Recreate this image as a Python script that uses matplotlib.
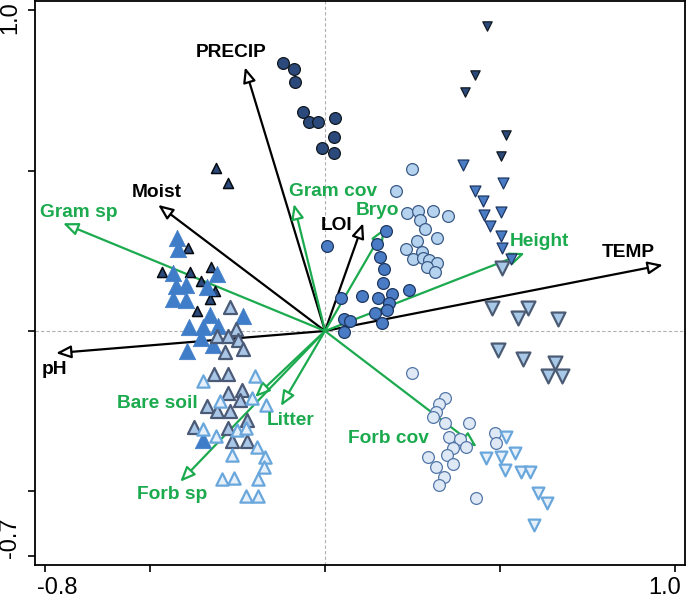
import matplotlib
matplotlib.use("Agg")
import matplotlib.pyplot as plt
from matplotlib.patches import FancyArrowPatch

plt.rcParams['font.family'] = ['Liberation Sans', 'DejaVu Sans']

# site scores, one group per symbol
navy_circ_x = [-0.120, -0.089, -0.086, -0.063, -0.046, -0.020, 0.029, 0.026, -0.009, 0.026]
navy_circ_y = [0.835, 0.816, 0.776, 0.682, 0.651, 0.651, 0.664, 0.604, 0.570, 0.555]

mid_circ_x = [0.006, 0.174, 0.149, 0.157, 0.169, 0.166, 0.106, 0.151, 0.191, 0.240,
              0.183, 0.177, 0.143, 0.046, 0.054, 0.071, 0.163, 0.054]
mid_circ_y = [0.265, 0.312, 0.271, 0.231, 0.193, 0.150, 0.109, 0.103, 0.115, 0.128,
              0.087, 0.065, 0.056, 0.103, 0.037, 0.031, 0.025, -0.003]

light_circ_x = [0.249, 0.203, 0.234, 0.266, 0.309, 0.351, 0.271, 0.286, 0.320,
                0.263, 0.231, 0.277, 0.251, 0.280, 0.297, 0.320, 0.291, 0.314]
light_circ_y = [0.505, 0.436, 0.368, 0.374, 0.374, 0.358, 0.346, 0.318, 0.290,
                0.280, 0.255, 0.246, 0.224, 0.227, 0.221, 0.212, 0.199, 0.184]

pale_circ_x = [0.249, 0.343, 0.326, 0.317, 0.309, 0.343, 0.411, 0.486, 0.489, 0.354,
               0.386, 0.366, 0.403, 0.349, 0.294, 0.366, 0.317, 0.340, 0.326, 0.431]
pale_circ_y = [-0.131, -0.209, -0.227, -0.252, -0.268, -0.287, -0.287, -0.318, -0.349, -0.330,
               -0.336, -0.364, -0.361, -0.386, -0.393, -0.414, -0.424, -0.455, -0.480, -0.520]

navy_down_x = [0.463, 0.429, 0.400, 0.517, 0.503]
navy_down_y = [0.950, 0.798, 0.745, 0.611, 0.545]

mid_down_x = [0.394, 0.509, 0.429, 0.451, 0.454, 0.503, 0.471, 0.503, 0.506, 0.531]
mid_down_y = [0.517, 0.461, 0.436, 0.405, 0.361, 0.371, 0.327, 0.296, 0.259, 0.224]

light_down_x = [0.506, 0.477, 0.551, 0.580, 0.666, 0.494, 0.566, 0.657, 0.637, 0.677]
light_down_y = [0.196, 0.072, 0.040, 0.072, 0.037, -0.059, -0.087, -0.100, -0.140, -0.140]

pale_down_x = [0.517, 0.460, 0.503, 0.543, 0.514, 0.560, 0.586, 0.609, 0.634, 0.597]
pale_down_y = [-0.330, -0.396, -0.393, -0.380, -0.433, -0.439, -0.439, -0.505, -0.536, -0.604]

navy_up_x = [-0.311, -0.277, -0.391, -0.466, -0.386, -0.326, -0.354, -0.314, -0.329, -0.366]
navy_up_y = [0.508, 0.461, 0.259, 0.184, 0.184, 0.199, 0.156, 0.125, 0.100, 0.062]

mid_up_x = [-0.423, -0.420, -0.434, -0.309, -0.426, -0.397, -0.337, -0.434, -0.397,
            -0.329, -0.234, -0.389, -0.349, -0.306, -0.354, -0.320, -0.394, -0.349]
mid_up_y = [0.290, 0.255, 0.181, 0.178, 0.140, 0.143, 0.137, 0.100, 0.097,
            0.050, 0.047, 0.012, 0.012, 0.016, -0.022, -0.044, -0.062, -0.340]

light_up_x = [-0.271, -0.254, -0.309, -0.277, -0.249, -0.234, -0.286, -0.317, -0.277, -0.277,
              -0.237, -0.337, -0.309, -0.271, -0.243, -0.374, -0.277, -0.223, -0.266, -0.223]
light_up_y = [0.075, 0.006, -0.016, -0.016, -0.028, -0.056, -0.065, -0.134, -0.134, -0.193,
              -0.184, -0.234, -0.249, -0.249, -0.215, -0.299, -0.302, -0.277, -0.343, -0.343]

pale_up_x = [-0.349, -0.200, -0.300, -0.209, -0.169, -0.349, -0.311, -0.251, -0.226,
             -0.194, -0.171, -0.174, -0.266, -0.294, -0.260, -0.191, -0.226, -0.191]
pale_up_y = [-0.156, -0.140, -0.218, -0.209, -0.231, -0.305, -0.327, -0.308, -0.302,
             -0.361, -0.393, -0.424, -0.386, -0.461, -0.458, -0.461, -0.514, -0.514]

# environmental variables (black) and vegetation variables (green)
env_names = ["PRECIP", "Moist", "LOI", "TEMP", "pH"]
env_x = [-0.229, -0.477, 0.109, 0.966, -0.769]
env_y = [0.822, 0.393, 0.336, 0.206, -0.069]
env_lab_x = [-0.269, -0.480, 0.034, 0.866, -0.774]
env_lab_y = [0.868, 0.433, 0.330, 0.246, -0.121]

veg_names = ["Gram sp", "Gram cov", "Bryo", "Height", "Bare soil", "Litter", "Forb sp", "Forb cov"]
veg_x = [-0.749, -0.089, 0.171, 0.571, -0.200, -0.126, -0.414, 0.434]
veg_y = [0.336, 0.396, 0.321, 0.243, -0.206, -0.234, -0.470, -0.361]
veg_lab_x = [-0.703, 0.023, 0.151, 0.614, -0.480, -0.097, -0.437, 0.180]
veg_lab_y = [0.368, 0.436, 0.377, 0.280, -0.227, -0.280, -0.511, -0.336]

xticks = [-0.8, -0.5, 0, 0.5, 1.0]
yticks = [-0.7, -0.5, 0, 0.5, 1.0]

GREEN = "#1caa4f"

fig = plt.figure(figsize=(6.87, 5.99), dpi=100)
ax = fig.add_axes([0.051, 0.057, 0.946, 0.941])

ax.axhline(0, color="#b0b0b0", lw=0.8, ls=(0, (3, 2)), zorder=0)
ax.axvline(0, color="#b0b0b0", lw=0.8, ls=(0, (3, 2)), zorder=0)

def arrow(x, y, col):
    a = FancyArrowPatch((0, 0), (x, y), arrowstyle="-|>,head_length=0.9,head_width=0.38",
                        mutation_scale=10, fc="white", ec=col, lw=1.6,
                        shrinkA=0, shrinkB=0, zorder=2)
    ax.add_patch(a)

for i in range(len(env_names)):
    arrow(env_x[i], env_y[i], "black")
for i in range(len(veg_names)):
    arrow(veg_x[i], veg_y[i], GREEN)

# circles
ax.scatter(navy_circ_x, navy_circ_y, s=72, c="#2b4a7b", edgecolors="#101820", lw=0.9, zorder=3)
ax.scatter(mid_circ_x, mid_circ_y, s=72, c="#4a7cc6", edgecolors="#1d3661", lw=0.9, zorder=3)
ax.scatter(light_circ_x, light_circ_y, s=72, c="#b5d3ef", edgecolors="#3a5a86", lw=0.9, zorder=3)
ax.scatter(pale_circ_x, pale_circ_y, s=72, c="#dfe9f6", edgecolors="#5276a8", lw=0.9, zorder=3)

# down triangles
ax.scatter(navy_down_x, navy_down_y, s=45, marker="v", c="#2b4a7b", edgecolors="#101820", lw=0.9, zorder=3)
ax.scatter(mid_down_x, mid_down_y, s=62, marker="v", c="#4a7cc6", edgecolors="#1d3661", lw=0.9, zorder=3)
ax.scatter(light_down_x, light_down_y, s=100, marker="v", c="#a8c8e8", edgecolors="#4c5b74", lw=1.6, zorder=3)
ax.scatter(pale_down_x, pale_down_y, s=72, marker="v", c="#e6f0fa", edgecolors="#68a6dc", lw=1.6, zorder=3)

# up triangles
ax.scatter(navy_up_x, navy_up_y, s=52, marker="^", c="#2b4a7b", edgecolors="#050a10", lw=1.1, zorder=3)
ax.scatter(mid_up_x, mid_up_y, s=140, marker="^", c="#3f7dc8", edgecolors="#3f7dc8", lw=0.5, zorder=3)
ax.scatter(light_up_x, light_up_y, s=88, marker="^", c="#a9c6e6", edgecolors="#4b5a77", lw=1.6, zorder=3)
ax.scatter(pale_up_x, pale_up_y, s=78, marker="^", c="#e6f0fa", edgecolors="#68a6dc", lw=1.6, zorder=3)

for i in range(len(env_names)):
    ax.text(env_lab_x[i], env_lab_y[i], env_names[i], color="black", fontsize=13.8,
            fontweight="bold", ha="center", va="center", zorder=5)
for i in range(len(veg_names)):
    ax.text(veg_lab_x[i], veg_lab_y[i], veg_names[i], color=GREEN, fontsize=13.8,
            fontweight="bold", ha="center", va="center", zorder=5)

ax.set_xlim(-0.829, 1.029)
ax.set_ylim(-0.729, 1.028)
ax.set_xticks(xticks)
ax.set_yticks(yticks)
ax.set_xticklabels([])
ax.set_yticklabels([])
ax.tick_params(direction="out", length=5, width=1.2)
for sp in ax.spines.values():
    sp.set_linewidth(1.3)

# end labels only, nudged inward as in the original figure
ax.annotate("-0.8", xy=(xticks[0], 0), xycoords=("data", "axes fraction"),
            xytext=(8.5, -17), textcoords="offset points", ha="center", va="center", fontsize=17)
ax.annotate("1.0", xy=(xticks[-1], 0), xycoords=("data", "axes fraction"),
            xytext=(-7, -17), textcoords="offset points", ha="center", va="center", fontsize=17)
ax.annotate("1.0", xy=(0, yticks[-1]), xycoords=("axes fraction", "data"),
            xytext=(-18, -5), textcoords="offset points", ha="center", va="center",
            fontsize=17, rotation=90)
ax.annotate("-0.7", xy=(0, yticks[0]), xycoords=("axes fraction", "data"),
            xytext=(-18, 13), textcoords="offset points", ha="center", va="center",
            fontsize=17, rotation=90)

fig.savefig("out.png", dpi=100)
